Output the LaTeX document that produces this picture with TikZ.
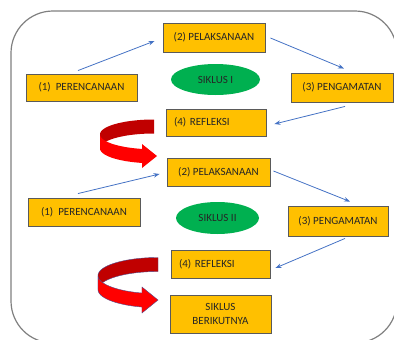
\documentclass[tikz,border=0pt]{standalone}
\usepackage{fontspec}
\setmainfont{Carlito}
\usetikzlibrary{arrows.meta,calc,shapes.geometric}
\definecolor{boxfill}{HTML}{FFC000}
\definecolor{boxline}{HTML}{5A5A5A}
\definecolor{ellfill}{HTML}{00B050}
\definecolor{conncol}{HTML}{4472C4}
\definecolor{darkred}{HTML}{C00000}
\definecolor{brightred}{HTML}{FF0000}
\definecolor{framecol}{HTML}{7F7F7F}
\definecolor{txt}{HTML}{262626}
\definecolor{ribbonline}{HTML}{4F4A8C}
\begin{document}
\begin{tikzpicture}[x=1pt,y=-1pt,
  every node/.style={font=\fontsize{11}{14}\selectfont, text=txt},
  stage/.style={rectangle, draw=boxline, line width=0.9pt, fill=boxfill, inner sep=0pt, align=center},
  leftstage/.style={rectangle, draw=boxline, line width=0.9pt, fill=boxfill, inner xsep=8pt, inner ysep=0pt, align=left},
  cycle/.style={ellipse, fill=ellfill, inner sep=0pt},
  conn/.style={draw=conncol, line width=0.8pt, -{Stealth[length=6pt,width=4.5pt]}},
  frame/.style={draw=framecol, line width=1.2pt, rounded corners=42pt}]
\useasboundingbox (0,0) rectangle (394,340);
\draw[frame] (11,11) rectangle (397,343);

% first cycle
\node[stage, minimum width=111pt, minimum height=27pt] (p1) at (81.5,87.5) {(1)\ \ PERENCANAAN};
\node[stage, minimum width=102pt, minimum height=29pt] (p2) at (214,37.5) {(2) PELAKSANAAN};
\node[cycle, minimum width=89pt, minimum height=31pt] (s1) at (215.5,79.5) {SIKLUS I};
\node[stage, minimum width=102pt, minimum height=29pt] (p3) at (342,87.5) {(3) PENGAMATAN};
\node[leftstage, text width=84pt, minimum height=27pt] (r1) at (216,122.5) {(4) REFLEKSI};

% second cycle
\node[stage, minimum width=103pt, minimum height=28pt] (p2b) at (218.5,172) {(2) PELAKSANAAN};
\node[stage, minimum width=112pt, minimum height=28pt] (p1b) at (84,212) {(1)\ \ PERENCANAAN};
\node[cycle, minimum width=83pt, minimum height=32pt] (s2) at (217.5,218) {SIKLUS II};
\node[stage, minimum width=100pt, minimum height=30pt] (p3b) at (338,221) {(3) PENGAMATAN};
\node[leftstage, text width=83pt, minimum height=28pt] (r2) at (220.5,264) {(4) REFLEKSI};
\node[stage, minimum width=101pt, minimum height=38pt] (sb) at (220.5,314) {SIKLUS\\BERIKUTNYA};

% connectors
\draw[conn] ($(p1.north)+(-3.5,-3)$) -- ($(p2.west)+(-8,3.5)$);
\draw[conn] ($(p2.east)+(5,0.5)$) -- ($(p3.north)+(2,-4)$);
\draw[conn] ($(p3.south)+(3,4)$) -- ($(r1.east)+(8,1.5)$);
\draw[conn] ($(p1b.north)+(-6,-4)$) -- ($(p2b.west)+(-7,2)$);
\draw[conn] ($(p2b.east)+(3,-1)$) -- ($(p3b.north)+(12,-4)$);
\draw[conn] ($(p3b.south)+(7,2)$) -- ($(r2.east)+(5,4)$);

% red curved arrow 1
\fill[darkred] plot[domain=270:180, samples=40] ({154+54*cos(\x)},{134.4+14.9*sin(\x)})
  -- plot[domain=180:270, samples=40] ({154+54*cos(\x)},{148.4+14.9*sin(\x)}) -- cycle;
\fill[brightred] plot[domain=180:102.8, samples=40] ({154+54*cos(\x)},{134.4+14.9*sin(\x)})
  -- (142,144) -- (157,156) -- (142,168)
  -- plot[domain=102.8:180, samples=40] ({154+54*cos(\x)},{148.4+14.9*sin(\x)}) -- cycle;

% red curved arrow 2
\path[fill=darkred, draw=ribbonline, line width=0.4pt] plot[domain=270:180, samples=40] ({158+60*cos(\x)},{275.6+18.1*sin(\x)})
  -- plot[domain=180:270, samples=40] ({158+60*cos(\x)},{289.6+18.1*sin(\x)}) -- cycle;
\path[fill=brightred, draw=ribbonline, line width=0.4pt] plot[domain=180:105.5, samples=40] ({158+60*cos(\x)},{275.6+18.1*sin(\x)})
  -- (142,287) -- (158,300) -- (142,313)
  -- plot[domain=105.5:180, samples=40] ({158+60*cos(\x)},{289.6+18.1*sin(\x)}) -- cycle;
\end{tikzpicture}
\end{document}
